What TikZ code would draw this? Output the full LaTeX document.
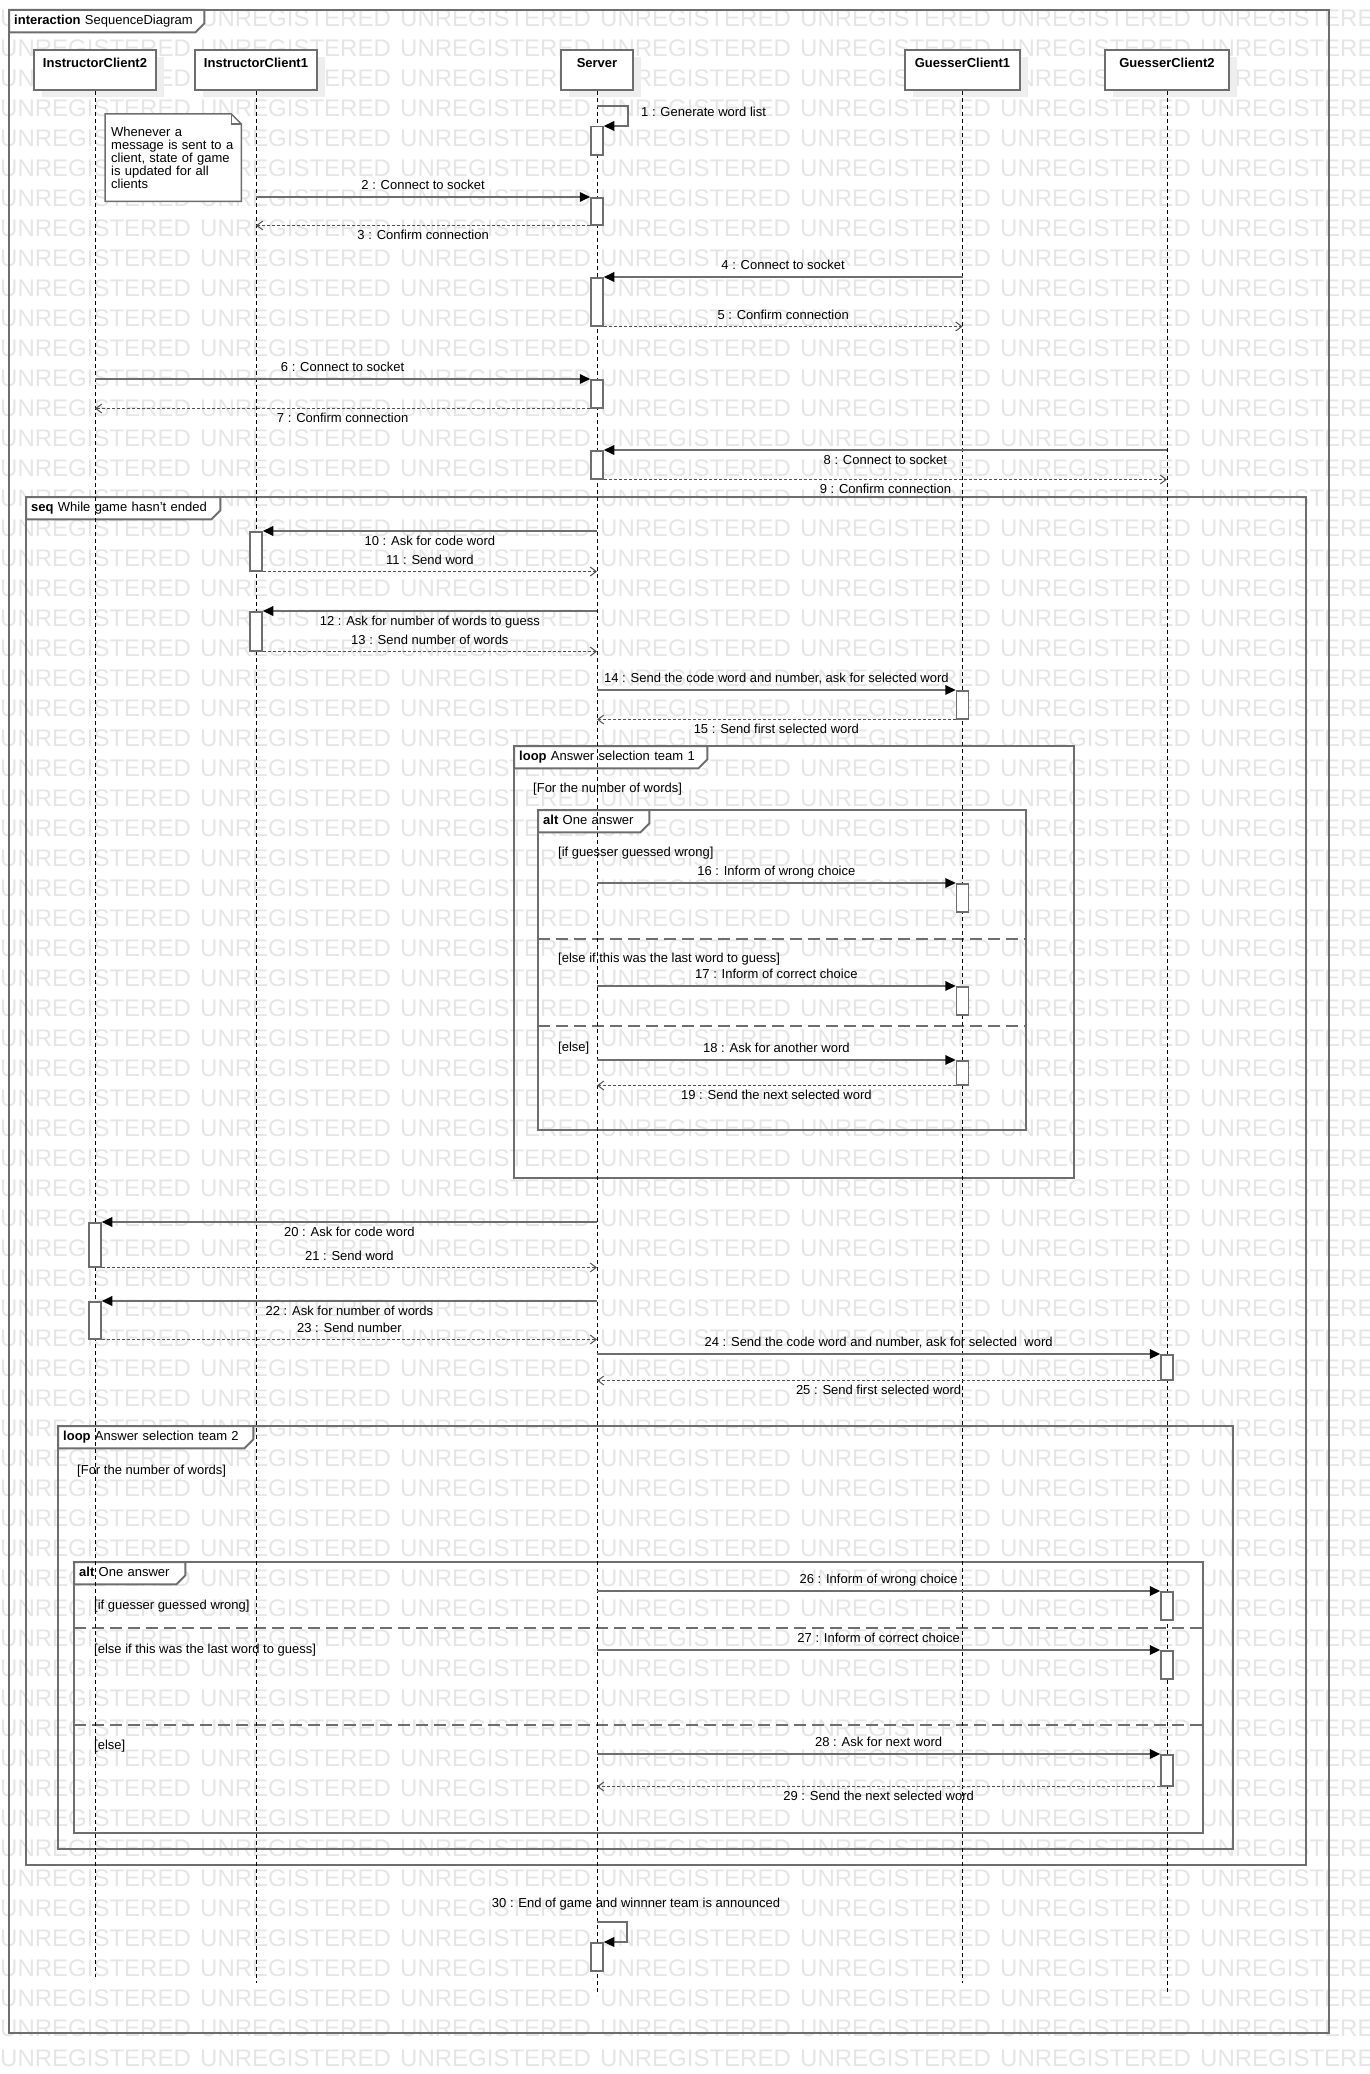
\documentclass[tikz,border=0pt]{standalone}
\usepackage{fontspec}
\setmainfont{Liberation Sans}
\usetikzlibrary{arrows.meta, positioning, calc, shadows}
\definecolor{cgrey}{HTML}{6E6E6E}
\definecolor{cdark}{HTML}{505050}
\definecolor{cmark}{HTML}{E5E5E5}
\definecolor{cshade}{HTML}{EEEEEE}
\tikzset{
  every picture/.style={x=1pt, y=-1pt, font=\fontsize{13}{13}\selectfont},
  head/.style={draw=cgrey, line width=2pt, fill=white, anchor=north, minimum width=#1, minimum height=40pt, inner xsep=0pt, inner ysep=6pt, text height=12pt, text depth=16pt, font=\fontsize{13}{13}\selectfont\bfseries, drop shadow={shadow xshift=8pt, shadow yshift=-7pt, fill=cshade, opacity=1}},
  act/.style={draw=cgrey, line width=1.5pt, fill=white, anchor=north, minimum width=12pt, minimum height=#1, inner sep=0pt},
  life/.style={line width=0.9pt, dash pattern=on 4pt off 3pt},
  msg/.style={draw=cgrey, line width=2pt, -{Triangle[length=10.5pt, width=9.5pt, color=black]}},
  ret/.style={draw=cdark, line width=1.7pt, dash pattern=on 3pt off 2pt, -{Straight Barb[length=6pt, width=9pt, line width=1pt]}},
  lbl/.style={inner xsep=2pt, inner ysep=3.5pt, text height=10pt, text depth=3pt, font=\fontsize{13}{13}\selectfont},
  fragframe/.style={draw=cgrey, line width=2pt},
  altsep/.style={draw=cgrey, line width=2pt, dash pattern=on 12pt off 6pt},
  tag/.style={anchor=north west, fill=white, text width=#1, align=left, inner xsep=5pt, inner ysep=0pt, minimum height=22pt, text height=10pt, text depth=3pt, font=\fontsize{13}{13}\selectfont},
  guard/.style={anchor=west, inner sep=0pt, font=\fontsize{13}{13}\selectfont},
  notebox/.style={anchor=north west, fill=white, text width=124pt, align=left, inner xsep=6pt, inner ysep=8pt, minimum height=87pt, font=\fontsize{13}{13}\selectfont},
  wmark/.style={anchor=west, inner sep=0pt, text=cmark, font=\fontsize{24}{24}\selectfont},
}

\begin{document}
\begin{tikzpicture}
  \useasboundingbox (0,0) rectangle (1370,2074);
  % watermark
  \begin{scope}
    \clip (0,0) rectangle (1370,2074);
    \foreach \r in {0,...,68}
      \foreach \c in {0,...,6}
        \node[wmark] (wm-\r-\c) at (200*\c,18.5+30*\r) {UNREGISTERED};
  \end{scope}

  % frames
  \draw[fragframe] (9,10) rectangle (1329,2033);
  \draw[fragframe] (26,497) rectangle (1306,1865);
  \draw[fragframe] (514,746) rectangle (1074,1178);
  \draw[fragframe] (538,810) rectangle (1026,1130);
  \draw[fragframe] (58,1426) rectangle (1233,1849);
  \draw[fragframe] (74,1562) rectangle (1203,1833);
  \draw[altsep] (538,939) -- (1026,939);
  \draw[altsep] (538,1026) -- (1026,1026);
  \draw[altsep] (74,1628) -- (1203,1628);
  \draw[altsep] (74,1725) -- (1203,1725);
  \node[tag=185pt] (tg0) at (9,10) {\textbf{interaction} SequenceDiagram};
  \node[tag=184pt] (tg1) at (26,497) {\textbf{seq} While game hasn't ended};
  \node[tag=183pt] (tg2) at (514,746) {\textbf{loop} Answer selection team 1};
  \node[tag=101pt] (tg3) at (538,810) {\textbf{alt} One answer};
  \node[tag=185pt] (tg4) at (58,1426) {\textbf{loop} Answer selection team 2};
  \node[tag=101pt] (tg5) at (74,1562) {\textbf{alt} One answer};
  \foreach \t in {tg0,tg1,tg2,tg3,tg4,tg5}
    \draw[fragframe] (\t.north west) -- (\t.north east) -- ($(\t.south east)+(0,-9)$)
      -- ($(\t.south east)+(-9,0)$) -- (\t.south west) -- cycle;

  % guards
  \node[guard] (g1) at (533,789) {[For the number of words]};
  \node[guard] (g2) at (558,853) {[if guesser guessed wrong]};
  \node[guard] (g3) at (558,959) {[else if this was the last word to guess]};
  \node[guard] (g4) at (558,1048) {[else]};
  \node[guard] (g5) at (77,1471) {[For the number of words]};
  \node[guard] (g6) at (94,1606) {[if guesser guessed wrong]};
  \node[guard] (g7) at (94,1650) {[else if this was the last word to guess]};
  \node[guard] (g8) at (94,1746) {[else]};

  % lifelines
  \node[head=122pt] (ic2) at (95,49) {InstructorClient2};
  \node[head=122pt] (ic1) at (256,49) {InstructorClient1};
  \node[head=72pt] (srv) at (597,49) {Server};
  \node[head=115pt] (gc1) at (962.5,49) {GuesserClient1};
  \node[head=124pt] (gc2) at (1167,49) {GuesserClient2};
  \foreach \h/\e in {ic2/1977, ic1/1983, srv/1995, gc1/1983, gc2/1993} {
    \coordinate (\h-end) at (\h |- 0,\e);
    \draw[life] (\h.south) -- (\h-end);
  }

  % note
  \node[notebox] (note) at (105,114) {Whenever a\\message is sent to a\\client, state of game\\is updated for all\\clients};
  \draw[cgrey, line width=1.5pt] (note.north west) -- ($(note.north east)+(-10,0)$) -- ($(note.north east)+(0,10)$)
    -- (note.south east) -- (note.south west) -- cycle;
  \draw[cgrey, line width=1.2pt] ($(note.north east)+(-10,0)$) -- ($(note.north east)+(-10,10)$) -- ($(note.north east)+(0,10)$);

  % activations
  \foreach \n/\l/\t/\h in {a1/srv/126/28, a2/srv/197/27, a4/srv/277/48, a6/srv/379/28, a8/srv/450/28,
      a10/ic1/531/39, a12/ic1/611/39, a14/gc1/690/28, a16/gc1/883/28, a17/gc1/986/28, a18/gc1/1060/24,
      a20/ic2/1222/44, a22/ic2/1301/37, a24/gc2/1354/25, a26/gc2/1591/28, a27/gc2/1650/28, a28/gc2/1754/31,
      a30/srv/1942/28}
    \node[act=\h] (\n) at (\l |- 0,\t) {};

  % messages
  \coordinate (s1) at (srv |- 0,106);
  \draw[msg] (s1) -- ++(31,0) |- (a1.north east);
  \node[lbl, anchor=west] (t1) at (639,113) {1 : Generate word list};
  \draw[msg] (ic1 |- a2.north) -- (a2.north west) node[lbl, midway, above] (t2) {2 : Connect to socket};
  \draw[ret] (a2.south west) -- (ic1 |- a2.south) node[lbl, midway, below] (t3) {3 : Confirm connection};
  \draw[msg] (gc1 |- a4.north) -- (a4.north east) node[lbl, midway, above] (t4) {4 : Connect to socket};
  \draw[ret] (a4.south east) -- (gc1 |- a4.south) node[lbl, midway, above] (t5) {5 : Confirm connection};
  \draw[msg] (ic2 |- a6.north) -- (a6.north west) node[lbl, midway, above] (t6) {6 : Connect to socket};
  \draw[ret] (a6.south west) -- (ic2 |- a6.south) node[lbl, midway, below] (t7) {7 : Confirm connection};
  \draw[msg] (gc2 |- a8.north) -- (a8.north east) node[lbl, midway, below] (t8) {8 : Connect to socket};
  \draw[ret] (a8.south east) -- (gc2 |- a8.south) node[lbl, midway, below] (t9) {9 : Confirm connection};

  \draw[msg] (srv |- a10.north) -- (a10.north east) node[lbl, midway, below] (t10) {10 : Ask for code word};
  \draw[ret] (a10.south east) -- (srv |- a10.south) node[lbl, midway, above] (t11) {11 : Send word};
  \draw[msg] (srv |- a12.north) -- (a12.north east) node[lbl, midway, below] (t12) {12 : Ask for number of words to guess};
  \draw[ret] (a12.south east) -- (srv |- a12.south) node[lbl, midway, above] (t13) {13 : Send number of words};
  \draw[msg] (srv |- a14.north) -- (a14.north west) node[lbl, midway, above] (t14) {14 : Send the code word and number, ask for selected word};
  \draw[ret] (a14.south west) -- (srv |- a14.south) node[lbl, midway, below] (t15) {15 : Send first selected word};

  % team 1 answers
  \draw[msg] (srv |- a16.north) -- (a16.north west) node[lbl, midway, above] (t16) {16 : Inform of wrong choice};
  \draw[msg] (srv |- a17.north) -- (a17.north west) node[lbl, midway, above] (t17) {17 : Inform of correct choice};
  \draw[msg] (srv |- a18.north) -- (a18.north west) node[lbl, midway, above] (t18) {18 : Ask for another word};
  \draw[ret] (a18.south west) -- (srv |- a18.south) node[lbl, midway, below] (t19) {19 : Send the next selected word};

  \draw[msg] (srv |- a20.north) -- (a20.north east) node[lbl, midway, below] (t20) {20 : Ask for code word};
  \draw[ret] (a20.south east) -- (srv |- a20.south) node[lbl, midway, above] (t21) {21 : Send word};
  \draw[msg] (srv |- a22.north) -- (a22.north east) node[lbl, midway, below] (t22) {22 : Ask for number of words};
  \draw[ret] (a22.south east) -- (srv |- a22.south) node[lbl, midway, above] (t23) {23 : Send number};
  \draw[msg] (srv |- a24.north) -- (a24.north west) node[lbl, midway, above] (t24) {24 : Send the code word and number, ask for selected~ word};
  \draw[ret] (a24.south west) -- (srv |- a24.south) node[lbl, midway, below] (t25) {25 : Send first selected word};

  % team 2 answers
  \draw[msg] (srv |- a26.north) -- (a26.north west) node[lbl, midway, above] (t26) {26 : Inform of wrong choice};
  \draw[msg] (srv |- a27.north) -- (a27.north west) node[lbl, midway, above] (t27) {27 : Inform of correct choice};
  \draw[msg] (srv |- a28.north) -- (a28.north west) node[lbl, midway, above] (t28) {28 : Ask for next word};
  \draw[ret] (a28.south west) -- (srv |- a28.south) node[lbl, midway, below] (t29) {29 : Send the next selected word};

  % end of game
  \coordinate (s30) at (srv |- 0,1922);
  \draw[msg] (s30) -- ++(30,0) |- (a30.north east);
  \node[lbl] (t30) at (636,1904) {30 : End of game and winnner team is announced};
\end{tikzpicture}
\end{document}
